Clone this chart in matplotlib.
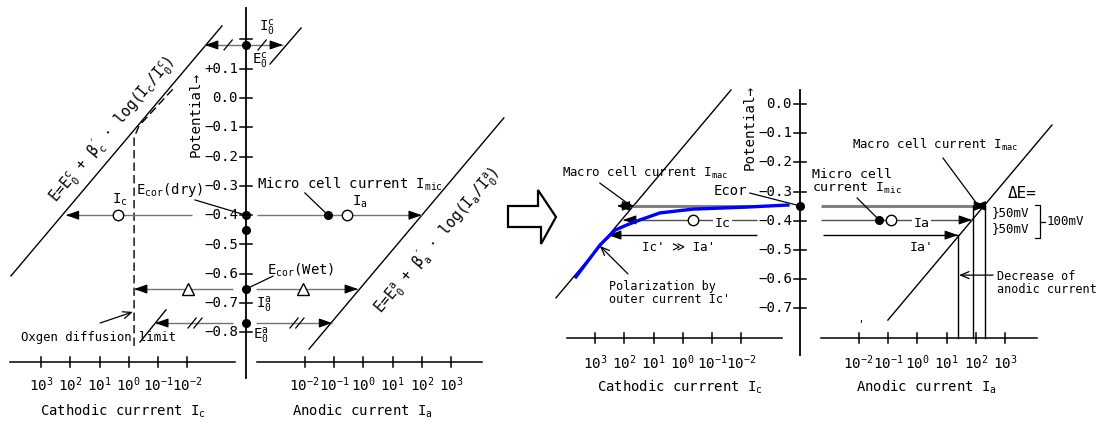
import matplotlib.pyplot as plt
from matplotlib.patches import Polygon

plt.rcParams['font.family'] = ['DejaVu Sans Mono', 'DejaVu Sans']
plt.rcParams['mathtext.fontset'] = 'custom'
plt.rcParams['mathtext.rm'] = 'DejaVu Sans Mono'
plt.rcParams['mathtext.it'] = 'DejaVu Sans Mono'
plt.rcParams['mathtext.sf'] = 'DejaVu Sans Mono'

# ---- axis ticks ----
left_E_ticks = [0.2, 0.1, 0.0, -0.1, -0.2, -0.3, -0.4, -0.5, -0.6, -0.7, -0.8]
left_E_labels = ['', '+0.1', '0.0', '−0.1', '−0.2', '−0.3', '−0.4', '−0.5', '−0.6', '−0.7', '−0.8']
right_E_ticks = [0.0, -0.1, -0.2, -0.3, -0.4, -0.5, -0.6, -0.7]
right_E_labels = ['0.0', '−0.1', '−0.2', '−0.3', '−0.4', '−0.5', '−0.6', '−0.7']
cath_decades = [3, 2, 1, 0, -1, -2]
anod_decades = [-2, -1, 0, 1, 2, 3]

# ---- left panel (log10 current, potential V) ----
L_cath_logI = [4.02, -3.18]
L_cath_E = [-0.607, 0.246]
L_anod_logI = [-1.85, 4.8]
L_anod_E = [-0.857, -0.068]
L_anod_stub_logI = [-3.18, -2.12]
L_anod_stub_E = [0.116, 0.239]
L_cath_stub_logI = [-0.38, -1.27]
L_cath_stub_E = [-0.833, -0.723]
L_o2_logI = [-1.5, -0.35, -0.18, -0.18]
L_o2_E = [0.03, -0.095, -0.135, -0.86]

L_dot_E = [0.181, -0.4, -0.45, -0.652, -0.768]
L_arrow_E = [0.181, -0.4, -0.652, -0.768]
L_cath_from = [-4.0, -2.16, -3.56, -3.56]
L_cath_to = [-2.6, 2.15, -0.18, -0.9]
L_anod_from = [-4.0, -3.62, -3.66, -3.66]
L_anod_to = [-2.74, 2.0, -0.18, -1.06]

# ---- right panel ----
R_cath_logI = [4.33, -1.645]
R_cath_E = [-0.664, 0.048]
R_anod_logI = [-1.0, 4.6]
R_anod_E = [-0.74, -0.072]
blue_logI = [3.645, 2.826, 2.314, 1.904, 1.461, 0.778, -0.348, -2.19, -3.59]
blue_E = [-0.592, -0.483, -0.432, -0.414, -0.397, -0.373, -0.360, -0.353, -0.346]

R_Ecor = -0.349
R_arrow_E = [-0.349, -0.397, -0.449]
R_cath_from = [-2.43, -2.53, -2.53]
R_cath_to = [1.73, 2.04, 2.55]
R_anod_from = [-3.28, -3.28, -3.215]
R_anod_to = [1.97, 1.87, 1.39]
R_macro_cath = [2.25, 1.63]
R_macro_anod = [1.90, 2.38]
R_drop_logI = [1.39, 1.90, 2.33]
R_drop_E = [-0.449, -0.349, -0.349]


def cu(logI):
    return -(4 + logI)


def au(logI):
    return 4 + logI


HEAD = '-|>,head_length=0.8,head_width=0.28'


def harrow(ax, E, u0, u1, color='0.45', lw=1.0, head=True):
    ax.plot([u0, u1], [E, E], color=color, lw=lw, solid_capstyle='butt')
    if head:
        s = 1 if u1 > u0 else -1
        ax.annotate('', xy=(u1, E), xytext=(u1 - s * 0.4, E),
                    arrowprops=dict(arrowstyle=HEAD, color='k', lw=0.8,
                                    shrinkA=0, shrinkB=0))


def open_arrow(ax, p0, p1):
    ax.annotate('', xy=p1, xytext=p0,
                arrowprops=dict(arrowstyle='->,head_length=0.6,head_width=0.25',
                                color='k', lw=0.9, shrinkA=0, shrinkB=0))


def slash(ax, u, E, n=1):
    for k in range(n):
        du = (k - (n - 1) / 2) * 0.2
        ax.plot([u + du - 0.14, u + du + 0.14], [E - 0.017, E + 0.017], 'k', lw=0.9)


def make_panel(fig, px0, pw, ox, oy, sx, sy):
    ax = fig.add_axes([px0 / 1099, 0, pw / 1099, 1])
    ax.set_xlim((px0 - ox) / sx, (px0 + pw - ox) / sx)
    ax.set_ylim((oy - 423) / sy, oy / sy)
    ax.axis('off')
    return ax


def potential_axis(ax, top, bottom, ticks, labels, lab_u, pot_u, pot_E, xE, xr_c, xr_a,
                   dec_E, title_E, title_cu, title_au):
    ax.plot([0, 0], [top, bottom], 'k', lw=1.3)
    for t, lab in zip(ticks, labels):
        ax.plot([-0.2, 0.2], [t, t], 'k', lw=1.1)
        ax.text(lab_u, t, lab, ha='right', va='center', fontsize=10.2)
    ax.text(pot_u, pot_E, 'Potential→', rotation=90, ha='center', va='center', fontsize=10.2)
    ax.plot(xr_c, [xE, xE], 'k', lw=1.1)
    ax.plot(xr_a, [xE, xE], 'k', lw=1.1)
    for d in cath_decades:
        ax.plot([cu(d), cu(d)], [xE - 0.017, xE + 0.017], 'k', lw=1.1)
        ax.text(cu(d), dec_E, r'$10^{%d}$' % d, ha='center', va='center', fontsize=10.3)
    for d in anod_decades:
        ax.plot([au(d), au(d)], [xE - 0.017, xE + 0.017], 'k', lw=1.1)
        ax.text(au(d), dec_E, r'$10^{%d}$' % d, ha='center', va='center', fontsize=10.3)
    ax.text(title_cu, title_E, r'Cathodic currrent I$_{\rm c}$', ha='center', va='center', fontsize=10)
    ax.text(title_au, title_E, r'Anodic current I$_{\rm a}$', ha='center', va='center', fontsize=10)


fig = plt.figure(figsize=(10.99, 4.23), dpi=100)
FS = 10

# ================= left panel =================
axL = make_panel(fig, 0, 505, 246, 98, 29.3, 293)
potential_axis(axL, 0.307, -0.956, left_E_ticks, left_E_labels, -0.27, -1.72, -0.058,
               -0.9, [-8.05, -0.375], [0.375, 8.05], -0.98, -1.068, -4.2, 3.96)

axL.plot([cu(v) for v in L_cath_logI], L_cath_E, 'k', lw=1.0)
axL.plot([au(v) for v in L_anod_logI], L_anod_E, 'k', lw=1.0)
axL.plot([au(v) for v in L_anod_stub_logI], L_anod_stub_E, 'k', lw=1.0)
axL.plot([cu(v) for v in L_cath_stub_logI], L_cath_stub_E, 'k', lw=1.0)
axL.plot([cu(v) for v in L_o2_logI], L_o2_E, 'k', lw=1.0, dashes=(6, 3))

for E, c0, c1, a0, a1 in zip(L_arrow_E, L_cath_from, L_cath_to, L_anod_from, L_anod_to):
    harrow(axL, E, cu(c0), cu(c1))
    harrow(axL, E, au(a0), au(a1))

axL.plot([0] * len(L_dot_E), L_dot_E, 'o', color='k', ms=5.5, zorder=5)
axL.plot([au(-1.2)], [-0.4], 'o', color='k', ms=5.5, zorder=5)
axL.plot([cu(0.37), au(-0.55)], [-0.4, -0.4], 'o', mfc='white', mec='k', ms=7.5, mew=1, zorder=5)
axL.plot([cu(-2.02), au(-2.05)], [-0.652, -0.652], '^', mfc='white', mec='k', ms=8, mew=1, zorder=5)
slash(axL, cu(-3.39), 0.181)
slash(axL, au(-3.45), 0.181)
slash(axL, cu(-2.26), -0.768, 2)
slash(axL, au(-2.26), -0.768, 2)

axL.text(0.44, 0.239, r'I$_0^{\rm c}$', ha='left', va='center', fontsize=FS)
axL.text(0.2, 0.125, r'E$_0^{\rm c}$', ha='left', va='center', fontsize=FS)
axL.text(-1.47, -0.314, r'E$_{\rm cor}$(dry)', ha='right', va='center', fontsize=FS)
axL.plot([-1.74, 0], [-0.348, -0.4], 'k', lw=0.9)
axL.text(0.375, -0.294, r'Micro cell current I$_{\rm mic}$', ha='left', va='center', fontsize=FS)
axL.plot([2.01, au(-1.2)], [-0.324, -0.4], 'k', lw=0.9)
axL.text(-4.3, -0.348, r'I$_{\rm c}$', ha='center', va='center', fontsize=FS)
axL.text(3.9, -0.355, r'I$_{\rm a}$', ha='center', va='center', fontsize=FS)
axL.text(0.72, -0.587, r'E$_{\rm cor}$(Wet)', ha='left', va='center', fontsize=FS)
axL.plot([0.92, 0], [-0.608, -0.652], 'k', lw=0.9)
axL.text(0.34, -0.706, r'I$_0^{\rm a}$', ha='left', va='center', fontsize=FS)
axL.text(0.24, -0.812, r'E$_0^{\rm a}$', ha='left', va='center', fontsize=FS)
axL.text(-7.68, -0.816, 'Oxgen diffusion limit', ha='left', va='center', fontsize=8.8)
open_arrow(axL, (-4.98, -0.768), (-3.86, -0.730))
axL.text(-4.57, -0.109, r'E=E$_0^{\rm c}$ + β$_{\rm c}^{\prime}$ · log(I$_{\rm c}$/I$_0^{\rm c}$)',
         rotation=50, rotation_mode='anchor', ha='center', va='center', fontsize=10.5)
axL.text(6.52, -0.488, r'E=E$_0^{\rm a}$ + β$_{\rm a}^{\prime}$ · log(I$_{\rm a}$/I$_0^{\rm a}$)',
         rotation=50, rotation_mode='anchor', ha='center', va='center', fontsize=10.5)

# ================= right panel =================
axR = make_panel(fig, 550, 549, 800, 104, 29.3, 292)
potential_axis(axR, 0.048, -0.86, right_E_ticks, right_E_labels, -0.27, -1.72, -0.079,
               -0.8, [-7.95, -0.61], [0.72, 8.09], -0.887, -0.969, -4.1, 4.3)

axR.plot([cu(v) for v in R_cath_logI], R_cath_E, 'k', lw=1.0)
axR.plot([au(v) for v in R_anod_logI], R_anod_E, 'k', lw=1.0)
axR.plot([cu(v) for v in blue_logI], blue_E, color='#0000ff', lw=2.4, zorder=4)

cols = ['0.5', '0.3', 'k']
lws = [2.2, 1.0, 1.0]
heads = [False, True, True]
for E, c0, c1, a0, a1, col, lw, hd in zip(R_arrow_E, R_cath_from, R_cath_to, R_anod_from,
                                          R_anod_to, cols, lws, heads):
    harrow(axR, E, cu(c0), cu(c1), color=col, lw=lw, head=hd)
    harrow(axR, E, au(a0), au(a1), color=col, lw=lw, head=hd)

for pair, f in ((R_macro_cath, cu), (R_macro_anod, au)):
    axR.annotate('', xy=(f(pair[0]), R_Ecor), xytext=(f(pair[1]), R_Ecor),
                 arrowprops=dict(arrowstyle='<|-|>,head_length=0.8,head_width=0.3',
                                 color='k', lw=0.8, shrinkA=0, shrinkB=0), zorder=5)

for lg, top in zip(R_drop_logI, R_drop_E):
    axR.plot([au(lg), au(lg)], [top, -0.8], 'k', lw=1.0)

axR.plot([0], [R_Ecor], 'o', color='k', ms=5.5, zorder=5)
axR.plot([au(-1.30)], [-0.397], 'o', color='k', ms=5.5, zorder=5)
axR.plot([cu(-0.35), au(-0.89)], [-0.397, -0.397], 'o', mfc='white', mec='k', ms=7.5, mew=1, zorder=5)

wb = dict(facecolor='white', edgecolor='none', pad=1)
axR.text(-8.12, -0.236, r'Macro cell current I$_{\rm mac}$', ha='left', va='center', fontsize=8.9)
axR.plot([-6.83, -5.9], [-0.271, -0.339], 'k', lw=0.9)
axR.text(-1.81, -0.298, 'Ecor', ha='right', va='center', fontsize=10)
axR.plot([-1.71, 0], [-0.305, R_Ecor], 'k', lw=0.9)
axR.text(0.41, -0.267, 'Micro cell\n' + r'current I$_{\rm mic}$', ha='left', va='center',
         fontsize=9.5, linespacing=1.0)
axR.plot([1.95, au(-1.30)], [-0.322, -0.397], 'k', lw=0.9)
axR.text(1.77, -0.140, r'Macro cell current I$_{\rm mac}$', ha='left', va='center', fontsize=8.9)
axR.plot([4.88, 6.04], [-0.185, -0.342], 'k', lw=0.9)
axR.text(7.1, -0.305, 'ΔE=', ha='left', va='center', fontsize=11.5)
axR.text(6.55, -0.370, '}50mV', ha='left', va='center', fontsize=9)
axR.text(6.55, -0.428, '}50mV', ha='left', va='center', fontsize=9)
axR.plot([8.02, 8.19, 8.19, 8.02], [-0.346, -0.346, -0.459, -0.459], 'k', lw=0.9)
axR.plot([8.19, 8.36], [-0.404, -0.404], 'k', lw=0.9)
axR.text(8.4, -0.404, '100mV', ha='left', va='center', fontsize=9)
axR.text(-4.13, -0.493, "Ic' ≫ Ia'", ha='center', va='center', fontsize=9)
axR.text(-6.52, -0.647, "Polarization by\nouter current Ic'", ha='left', va='center',
         fontsize=8.5, linespacing=1.05)
open_arrow(axR, (-5.87, -0.582), (-6.83, -0.486))
axR.text(-2.63, -0.408, 'Ic', ha='center', va='center', fontsize=9.5, bbox=wb, zorder=6)
axR.text(4.16, -0.408, 'Ia', ha='center', va='center', fontsize=9.5, bbox=wb, zorder=6)
axR.text(4.16, -0.493, "Ia'", ha='center', va='center', fontsize=9.5)
axR.text(6.72, -0.613, 'Decrease of\nanodic current', ha='left', va='center', fontsize=8.6,
         linespacing=1.05)
open_arrow(axR, (6.59, -0.586), (au(1.43), -0.586))
axR.text(2.08, -0.753, "'", ha='center', va='center', fontsize=8)

# hollow block arrow between panels
axA = fig.add_axes([0, 0, 1, 1])
axA.set_xlim(0, 1099)
axA.set_ylim(423, 0)
axA.axis('off')
axA.patch.set_alpha(0)
axA.add_patch(Polygon([(508, 206), (538, 206), (538, 190), (556, 217), (541, 244),
                       (541, 227), (508, 227)], closed=True, fill=False, ec='k', lw=1.6))

fig.savefig('out.png', dpi=100)
